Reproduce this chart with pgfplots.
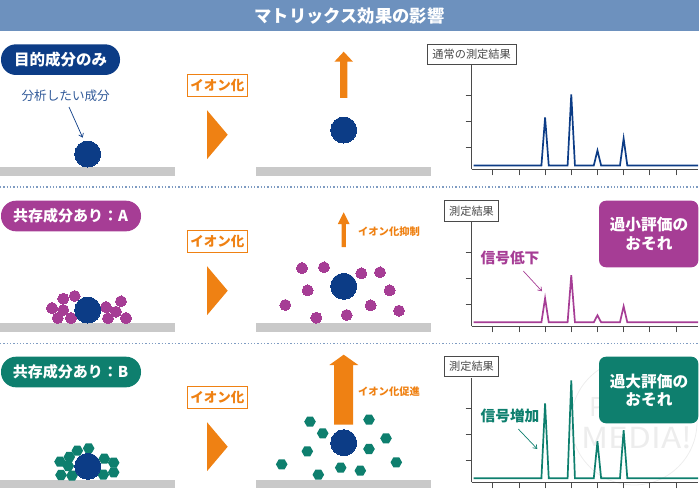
\documentclass[border=0pt]{standalone}
\usepackage{pgfplots}
\pgfplotsset{compat=1.18}
\usepackage{fontspec}
\usetikzlibrary{arrows.meta}
\setmainfont{Noto Sans CJK JP}
\definecolor{navy}{HTML}{0C3C86}
\definecolor{purp}{HTML}{A63D95}
\definecolor{teal2}{HTML}{0E7F6E}
\definecolor{oran}{HTML}{EF8113}
\definecolor{grayb}{HTML}{C9C9C9}
\definecolor{head}{HTML}{6D91BE}
\definecolor{dots}{HTML}{7F9CC2}
\definecolor{axc}{HTML}{4A4A4A}
\pgfdeclareplotmark{hexa}{%
  \pgfpathmoveto{\pgfqpoint{\pgfplotmarksize}{0pt}}%
  \pgfpathlineto{\pgfqpoint{0.5\pgfplotmarksize}{0.866\pgfplotmarksize}}%
  \pgfpathlineto{\pgfqpoint{-0.5\pgfplotmarksize}{0.866\pgfplotmarksize}}%
  \pgfpathlineto{\pgfqpoint{-\pgfplotmarksize}{0pt}}%
  \pgfpathlineto{\pgfqpoint{-0.5\pgfplotmarksize}{-0.866\pgfplotmarksize}}%
  \pgfpathlineto{\pgfqpoint{0.5\pgfplotmarksize}{-0.866\pgfplotmarksize}}%
  \pgfpathclose\pgfusepathqfill}
\pgfplotsset{
  chart/.style={
    scale only axis, anchor=south west, width=226.5pt,
    axis x line=bottom, axis y line=left,
    axis line style={-,draw=axc,line width=0.9pt},
    xmin=0.19, xmax=8.84, ymin=-4, ymax=100,
    xtick={1,...,8}, xticklabels={}, ytick={18,44,70}, yticklabels={},
    tick align=outside, major tick length=6pt,
    tick style={draw=axc,line width=0.8pt},
    clip=false,
  }
}
\begin{document}
\begin{tikzpicture}[x=1pt,y=1pt]
\path[use as bounding box] (0,0) rectangle (700,500);
\begin{axis}[at={(0pt,0pt)},anchor=south west,scale only axis,width=700pt,height=500pt,
  xmin=0,xmax=700,ymin=0,ymax=500,y dir=reverse,axis lines=none,clip=false]
% header
\fill[head] (axis cs:0,0.5) rectangle (axis cs:699,31);
\node[white,font=\fontsize{17.3}{20}\selectfont\bfseries] at (axis cs:349.5,15.5) {マトリックス効果の影響};
% dotted lines
\draw[dots,line width=1.3pt,dash pattern=on 1.3pt off 2pt] (axis cs:0,187) -- (axis cs:700,187);
\draw[dots,line width=1.3pt,dash pattern=on 1.3pt off 2pt] (axis cs:0,343.3) -- (axis cs:700,343.3);
% gray bars
\fill[grayb] (axis cs:0,167) rectangle (axis cs:175,176);
\fill[grayb] (axis cs:256,167) rectangle (axis cs:431.3,176);
\fill[grayb] (axis cs:0,323.3) rectangle (axis cs:175,332);
\fill[grayb] (axis cs:256,323.3) rectangle (axis cs:431.3,332);
\fill[grayb] (axis cs:0,479.7) rectangle (axis cs:175,488.3);
\fill[grayb] (axis cs:256,479.7) rectangle (axis cs:431.3,488.3);
% pills
\fill[navy,rounded corners=15pt] (axis cs:1,44.3) rectangle (axis cs:120,75);
\fill[purp,rounded corners=15pt] (axis cs:1,200.7) rectangle (axis cs:141,231.3);
\fill[teal2,rounded corners=15pt] (axis cs:1,356.7) rectangle (axis cs:141,387.3);
\node[white,font=\fontsize{15.5}{17}\selectfont\bfseries] at (axis cs:60.5,60) {目的成分のみ};
\node[white,font=\fontsize{15}{17}\selectfont\bfseries] at (axis cs:70.5,216) {共存成分あり：A};
\node[white,font=\fontsize{15}{17}\selectfont\bfseries] at (axis cs:70.5,372) {共存成分あり：B};
% target label
\node[navy!85,font=\fontsize{12.6}{14}\selectfont] at (axis cs:65.7,96) {分析したい成分};
\draw[navy,line width=0.7pt,-{Straight Barb[length=3.5pt,width=5pt]}] (axis cs:69,107) -- (axis cs:82.7,137.7);
% ionisation boxes and triangles
\draw[oran,line width=0.8pt] (axis cs:187,74.3) rectangle (axis cs:247.7,96.7);
\node[oran,font=\fontsize{13.5}{15}\selectfont\bfseries] at (axis cs:217.3,85.5) {イオン化};
\fill[oran] (axis cs:207,110.2) -- (axis cs:227.7,134.7) -- (axis cs:207,159.2) -- cycle;
\draw[oran,line width=0.8pt] (axis cs:187,230.3) rectangle (axis cs:247.7,252.7);
\node[oran,font=\fontsize{13.5}{15}\selectfont\bfseries] at (axis cs:217.3,241.5) {イオン化};
\fill[oran] (axis cs:207,266.2) -- (axis cs:227.7,290.7) -- (axis cs:207,315.2) -- cycle;
\draw[oran,line width=0.8pt] (axis cs:187,386.3) rectangle (axis cs:247.7,408.7);
\node[oran,font=\fontsize{13.5}{15}\selectfont\bfseries] at (axis cs:217.3,397.5) {イオン化};
\fill[oran] (axis cs:207,422.2) -- (axis cs:227.7,446.7) -- (axis cs:207,471.2) -- cycle;
% orange arrows
\fill[oran] (axis cs:343.7,51.7) -- (axis cs:353,61.7) -- (axis cs:347.4,61.7) -- (axis cs:347.4,98) -- (axis cs:340,98) -- (axis cs:340,61.7) -- (axis cs:334.4,61.7) -- cycle;
\fill[oran] (axis cs:343.7,212.3) -- (axis cs:349.6,224) -- (axis cs:345.9,224) -- (axis cs:345.9,247) -- (axis cs:341.5,247) -- (axis cs:341.5,224) -- (axis cs:337.8,224) -- cycle;
\fill[oran] (axis cs:343.7,354.7) -- (axis cs:358.3,365) -- (axis cs:353.2,365) -- (axis cs:353.2,424.7) -- (axis cs:334.2,424.7) -- (axis cs:334.2,365) -- (axis cs:329.3,365) -- cycle;
\node[oran,font=\fontsize{10.3}{12}\selectfont\bfseries] at (axis cs:389,232) {イオン化抑制};
\node[oran,font=\fontsize{10.3}{12}\selectfont\bfseries] at (axis cs:389,392) {イオン化促進};
% blue circles
\addplot[only marks,mark=*,mark size=13pt,mark options={draw=navy,fill=navy,line width=0pt},forget plot]
  coordinates {(87.7,154)(343.7,130)};
% purple molecules, panel A
\addplot[only marks,mark=*,mark size=5.5pt,mark options={draw=purp,fill=purp,line width=0pt}]
  coordinates {(52,308)(63.3,298.7)(74.7,296)(63.3,310)(57.7,318)(71,318)(106,307)(121,301.3)(116,311.7)(108,318.3)(126,318)
  (302,268)(324,267.3)(361.3,273.3)(380,272.3)(307.7,290.3)(389.7,290.3)(285.3,305)(370.7,305.3)(399,310.7)(316.3,317.7)(346.7,315)};
\addplot[only marks,mark=*,mark size=13pt,mark options={draw=navy,fill=navy,line width=0pt}]
  coordinates {(87.7,310)(343.7,286.3)};
% green molecules, panel B
\addplot[only marks,mark=hexa,mark size=5.8pt,draw=teal2,fill=teal2]
  coordinates {(60,461.7)(69.3,457)(77.3,450.7)(88.7,448.3)(68.3,466)(61,475)(72,475.7)(104.3,458.7)(113.7,462.7)(113.7,472.3)(103.3,474.7)
  (310,421.7)(369,419.7)(322.7,433.3)(386,438.3)(307.3,451.3)(369,449)(281.7,464.3)(396.3,462.3)(340.7,467.7)(360.3,470.7)(318.3,474.7)};
\addplot[only marks,mark=*,mark size=13pt,mark options={draw=navy,fill=navy,line width=0pt}]
  coordinates {(87.7,466.3)(343.7,442.7)};
% watermark
\draw[black!7,line width=0.8pt] (axis cs:634,422) circle[radius=63pt];
\node[black!7,font=\fontsize{26}{28}\selectfont] at (axis cs:598,407) {P};
\node[black!7,xscale=1.15,font=\fontsize{29}{31}\selectfont] at (axis cs:637,438) {MEDIA!};
\end{axis}
% charts
\begin{axis}[chart,at={(471.5pt,330.5pt)},height=104pt]
\addplot[navy,line width=1.7pt] coordinates {(0.27,0)(2.86,0)(3,48)(3.14,0)(3.86,0)(4,71)(4.14,0)(4.86,0)(5,15)(5.14,0)(5.86,0)(6,27)(6.14,0)(8.84,0)};
\end{axis}
\begin{axis}[chart,at={(471.5pt,173.7pt)},height=104pt]
\addplot[purp,line width=1.7pt] coordinates {(0.27,0)(2.86,0)(3,24)(3.14,0)(3.86,0)(4,47)(4.14,0)(4.86,0)(5,7)(5.14,0)(5.86,0)(6,16)(6.14,0)(8.84,0)};
\end{axis}
\begin{axis}[chart,at={(471.5pt,17.7pt)},height=104pt]
\addplot[teal2,line width=1.7pt] coordinates {(0.27,0)(2.86,0)(3,75)(3.14,0)(3.86,0)(4,98)(4.14,0)(4.86,0)(5,37)(5.14,0)(5.86,0)(6,48)(6.14,0)(8.84,0)};
\end{axis}
% overlay
\begin{axis}[at={(0pt,0pt)},anchor=south west,scale only axis,width=700pt,height=500pt,
  xmin=0,xmax=700,ymin=0,ymax=500,y dir=reverse,axis lines=none,clip=false]
\draw[axc,line width=0.9pt,fill=white] (axis cs:427,44.3) rectangle (axis cs:516.3,64.3);
\node[axc,font=\fontsize{11.2}{13}\selectfont] at (axis cs:471.6,54.3) {通常の測定結果};
\draw[axc,line width=0.9pt,fill=white] (axis cs:444.7,200.7) rectangle (axis cs:498.3,221);
\node[axc,font=\fontsize{11.2}{13}\selectfont] at (axis cs:471.5,210.8) {測定結果};
\draw[axc,line width=0.9pt,fill=white] (axis cs:444.7,356.7) rectangle (axis cs:498.3,376.7);
\node[axc,font=\fontsize{11.2}{13}\selectfont] at (axis cs:471.5,366.7) {測定結果};
\fill[purp,rounded corners=7pt] (axis cs:599,200.7) rectangle (axis cs:698.3,267.3);
\fill[teal2,rounded corners=7pt] (axis cs:599,356.7) rectangle (axis cs:698.3,423.3);
\node[white,font=\fontsize{15.7}{18}\selectfont\bfseries] at (axis cs:649,225) {過小評価の};
\node[white,font=\fontsize{15.7}{18}\selectfont\bfseries] at (axis cs:649,243.7) {おそれ};
\node[white,font=\fontsize{15.7}{18}\selectfont\bfseries] at (axis cs:649,381.7) {過大評価の};
\node[white,font=\fontsize{15.7}{18}\selectfont\bfseries] at (axis cs:649,400) {おそれ};
\node[purp,font=\fontsize{14.7}{17}\selectfont\bfseries] at (axis cs:510,258) {信号低下};
\node[teal2,font=\fontsize{14.7}{17}\selectfont\bfseries] at (axis cs:510,416.3) {信号増加};
\draw[purp,line width=0.7pt,-{Straight Barb[length=3.5pt,width=5pt]}] (axis cs:523.3,271) -- (axis cs:542,291.3);
\draw[teal2,line width=0.7pt,-{Straight Barb[length=3.5pt,width=5pt]}] (axis cs:518.3,429) -- (axis cs:537.3,449);
\end{axis}
\end{tikzpicture}
\end{document}
